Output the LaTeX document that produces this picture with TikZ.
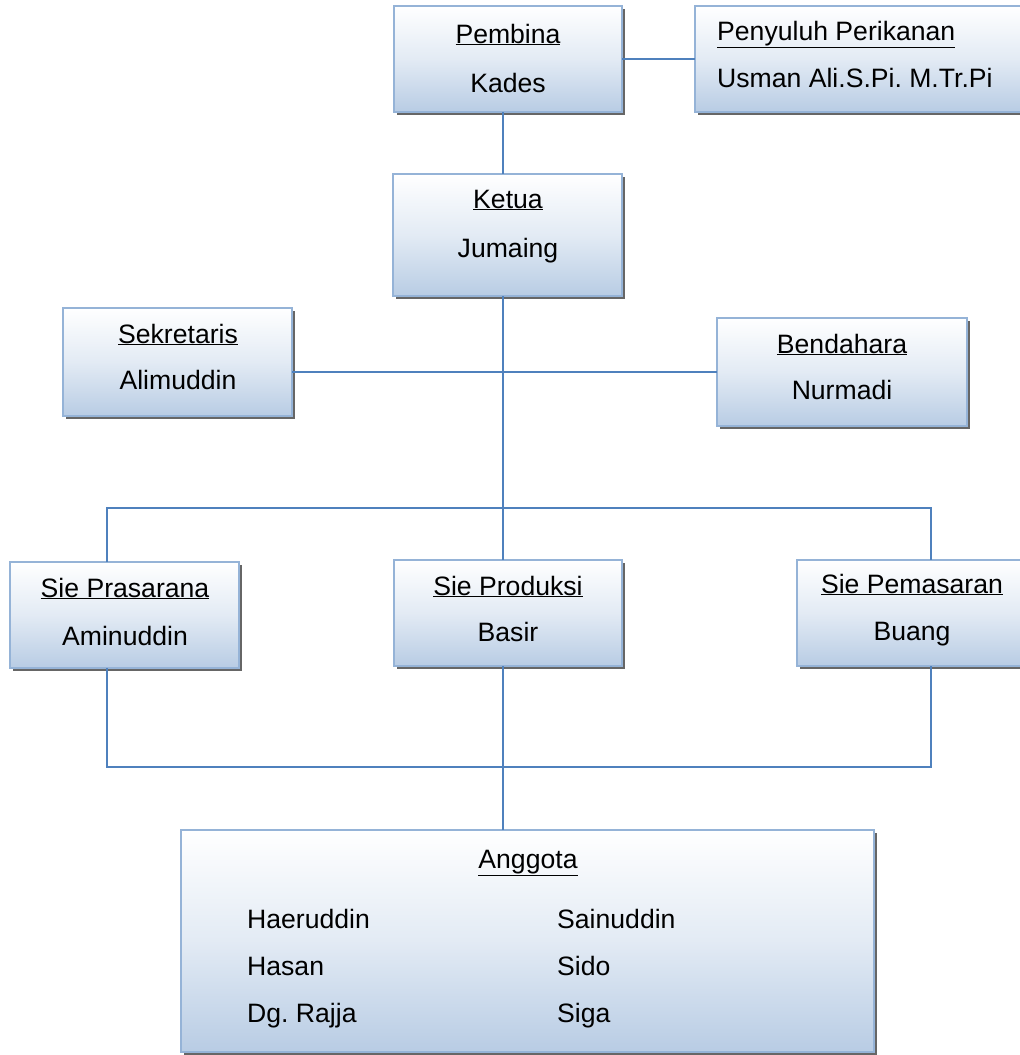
\documentclass[tikz,border=0pt]{standalone}
\usepackage{fontspec}
\setmainfont{Liberation Sans}
\usetikzlibrary{shadows}
\definecolor{boxbot}{RGB}{184,204,228}
\definecolor{boxline}{RGB}{149,179,215}
\definecolor{conn}{RGB}{79,129,189}
\newcommand{\ulab}[1]{\underline{#1}}
\begin{document}
\frenchspacing
\begin{tikzpicture}[x=1pt,y=1pt,
  box/.style={draw=boxline, line width=2pt, inner sep=0pt, outer sep=0pt,
    top color=white, bottom color=boxbot, middle color=white!60!boxbot,
    general shadow={fill=black!60, shadow xshift=3pt, shadow yshift=-3pt}},
  conn/.style={draw=conn, line width=2pt},
  lbl/.style={anchor=base, inner sep=0pt, font=\fontsize{26.6}{30}\selectfont},
  lblw/.style={anchor=base west, inner sep=0pt, font=\fontsize{26.6}{30}\selectfont}]
\useasboundingbox (0,0) rectangle (1020,-1055);
\clip (0,0) rectangle (1020,-1055);
% boxes
\node[box, minimum width=228, minimum height=106] (pembina) at (508,-59) {};
\node[box, minimum width=330, minimum height=106] (penyuluh) at (860,-59) {};
\node[box, minimum width=229, minimum height=122] (ketua) at (507.5,-235) {};
\node[box, minimum width=229, minimum height=108] (sek) at (177.5,-362) {};
\node[box, minimum width=250, minimum height=108] (ben) at (842,-372) {};
\node[box, minimum width=229, minimum height=106] (pras) at (124.5,-615) {};
\node[box, minimum width=228, minimum height=106] (prod) at (508,-613) {};
\node[box, minimum width=228, minimum height=106] (pem) at (911,-613) {};
\node[box, minimum width=693, minimum height=222] (ang) at (527.5,-941) {};
% junction coordinates
\coordinate (tr) at (503,0);
\coordinate (mid) at (503,-372);
\coordinate (jB) at (503,-508);
\coordinate (jL) at (107,-508);
\coordinate (jR) at (931,-508);
\coordinate (kB) at (503,-767);
% connectors
\draw[conn] (pembina.east) -- (penyuluh.west);
\draw[conn] (pembina.south -| tr) -- (ketua.north -| tr);
\draw[conn] (ketua.south -| tr) -- (jB);
\draw[conn] (sek.east |- mid) -- (ben.west |- mid);
\draw[conn] (pras.north -| jL) -- (jL) -- (jR) -- (pem.north -| jR);
\draw[conn] (jB) -- (prod.north -| tr);
\draw[conn] (pras.south -| jL) |- (kB);
\draw[conn] (pem.south -| jR) |- (kB);
\draw[conn] (prod.south -| tr) -- (ang.north -| tr);
% labels
\node[lbl] (t1) at (508,-43) {\ulab{Pembina}};
\node[lbl] (t2) at (508,-92) {Kades};
\node[lblw] (t3) at (717,-40) {\ulab{Penyuluh Perikanan}};
\node[lblw] (t4) at (717,-87) {Usman Ali.S.Pi. M.Tr.Pi};
\node[lbl] (t5) at (508,-208) {\ulab{Ketua}};
\node[lbl] (t6) at (508,-257) {Jumaing};
\node[lbl] (t7) at (178,-343) {\ulab{Sekretaris}};
\node[lbl] (t8) at (178,-389) {Alimuddin};
\node[lbl] (t9) at (842,-353) {\ulab{Bendahara}};
\node[lbl] (t10) at (842,-399) {Nurmadi};
\node[lbl] (t11) at (125,-597) {\ulab{Sie Prasarana}};
\node[lbl] (t12) at (125,-645) {Aminuddin};
\node[lbl] (t13) at (508,-595) {\ulab{Sie Produksi}};
\node[lbl] (t14) at (508,-641) {Basir};
\node[lbl] (t15) at (912,-593) {\ulab{Sie Pemasaran}};
\node[lbl] (t16) at (912,-640) {Buang};
\node[lbl] (t17) at (528,-868) {\ulab{Anggota}};
\node[lblw] (a1) at (247,-928) {Haeruddin};
\node[lblw] (a2) at (247,-975) {Hasan};
\node[lblw] (a3) at (247,-1022) {Dg. Rajja};
\node[lblw] (a4) at (557,-928) {Sainuddin};
\node[lblw] (a5) at (557,-975) {Sido};
\node[lblw] (a6) at (557,-1022) {Siga};
\end{tikzpicture}
\end{document}
